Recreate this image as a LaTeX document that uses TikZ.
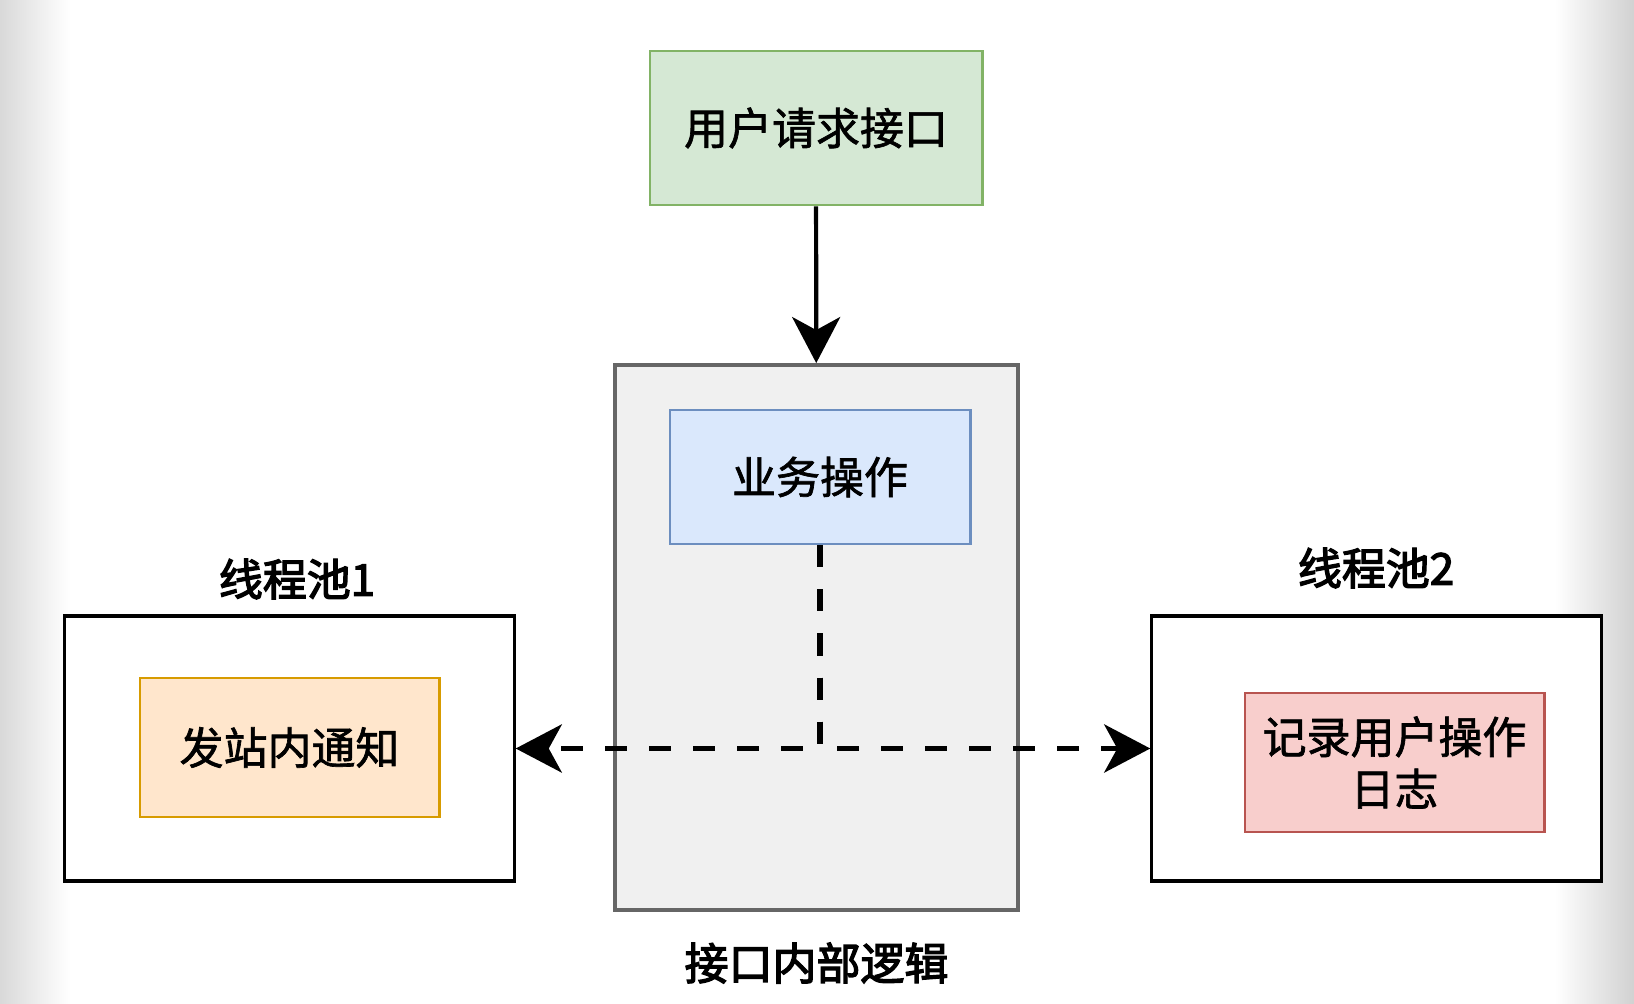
\documentclass[tikz,border=0pt]{standalone}
\usepackage{fontspec}
\setmainfont{Noto Sans CJK SC}
\newfontfamily\boxfont[FakeBold=1.5]{Noto Sans CJK SC}
\newfontfamily\titlefont[FakeBold=3]{Noto Sans CJK SC}
\usepackage{tikz}
\usetikzlibrary{arrows.meta,positioning}

\definecolor{greenfill}{HTML}{D5E8D4}
\definecolor{greenline}{HTML}{82B366}
\definecolor{bluefill}{HTML}{DAE8FC}
\definecolor{blueline}{HTML}{6C8EBF}
\definecolor{orangefill}{HTML}{FFE6CC}
\definecolor{orangeline}{HTML}{D79B00}
\definecolor{redfill}{HTML}{F8CECC}
\definecolor{redline}{HTML}{B85450}
\definecolor{grayfill}{HTML}{F0F0F0}
\definecolor{grayline}{HTML}{666666}

\begin{document}
\begin{tikzpicture}[x=0.01cm,y=-0.01cm,>={Stealth[length=4.6mm,width=4.8mm,inset=1.3mm]},
                    font=\boxfont\fontsize{12.5}{14.8}\selectfont]
  \tikzstyle{box}=[draw,inner sep=0pt,align=center,line width=0.8pt]
  \tikzstyle{pool}=[box,draw=black,fill=white,minimum width=4.49cm,minimum height=2.65cm,line width=0.9pt]
  \tikzstyle{task}=[box,minimum width=2.99cm,minimum height=1.39cm]
  \tikzstyle{title}=[inner sep=0pt,font=\titlefont\fontsize{12.5}{14.8}\selectfont]
  \tikzstyle{solidline}=[->,line width=1.2pt]
  \tikzstyle{dashline}=[->,line width=1.6pt,dash pattern=on 0.22cm off 0.22cm]

  \useasboundingbox (0,0) rectangle (1634,1004);
  \fill[white] (0,0) rectangle (1634,1004);
  \shade[left color=black!15,right color=white] (0,0) rectangle (70,1004);
  \shade[left color=white,right color=black!18] (1555,0) rectangle (1634,1004);

  \node[box,fill=greenfill,draw=greenline,minimum width=3.32cm,minimum height=1.54cm]
                          (req)    at (816,128)   {用户请求接口};
  \node[box,fill=grayfill,draw=grayline,minimum width=4.03cm,minimum height=5.45cm,line width=1pt]
                          (logic)  at (816.5,637.5) {};
  \node[box,fill=bluefill,draw=blueline,minimum width=3cm,minimum height=1.34cm]
                          (biz)    at (820,477)   {业务操作};
  \node[title]            (logicname) [below=0.3cm of logic] {接口内部逻辑};

  \node[pool]             (pool1)  at (289.5,748.5) {};
  \node[task,fill=orangefill,draw=orangeline]
                          (notify) at (289.5,747.5) {发站内通知};
  \node[title]            (pool1name) at (297,579) {线程池1};

  \node[pool]             (pool2)  at (1376.5,748.5) {};
  \node[task,fill=redfill,draw=redline]
                          (log)    at (1394.5,762.5) {记录用户操作\\日志};
  \node[title]            (pool2name) at (1376,568) {线程池2};

  \path (req) edge[solidline] (logic);
  \draw[dashline] (biz.south) |- (pool1.east);
  \draw[dashline] (biz.south) |- (pool2.west);
\end{tikzpicture}
\end{document}
